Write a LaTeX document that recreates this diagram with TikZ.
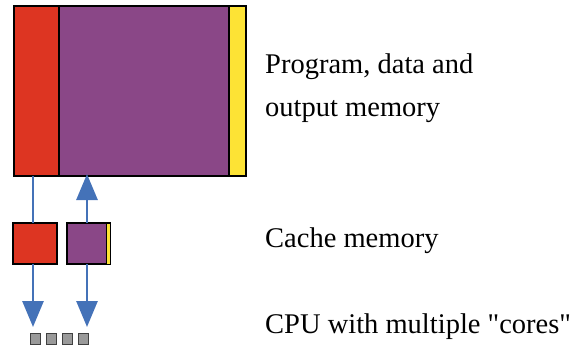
\documentclass[tikz,border=0pt]{standalone}
\usepackage{fontspec}
\newfontfamily\labelfont{Liberation Serif}
\usetikzlibrary{arrows.meta}
\definecolor{memred}{HTML}{DD3522}
\definecolor{mempurple}{HTML}{8A4787}
\definecolor{memyellow}{HTML}{FDE335}
\definecolor{busblue}{HTML}{4472B8}
\definecolor{coregray}{HTML}{9A9A9A}
\tikzset{
  block/.style={draw=black, line width=1.3pt, inner sep=0pt, outer sep=0pt, anchor=north west},
  core/.style={draw=black!75, fill=coregray, line width=1.2pt, inner sep=0pt, outer sep=0pt,
    minimum width=10pt, minimum height=11pt, anchor=north west},
  bus/.style={draw=busblue, line width=2.8pt},
  busarrow/.style={bus, -{Triangle[length=26pt,width=21pt]}},
  label/.style={anchor=base west, inner sep=0pt, font=\labelfont\fontsize{28.5}{34}\selectfont}
}
\begin{document}
\begin{tikzpicture}[x=1pt,y=-1pt]
\useasboundingbox (0,0) rectangle (577,350);
% main memory: program, data and output areas
\node[block, fill=mempurple, minimum width=170pt, minimum height=170pt] (mdata) at (59,6) {};
\node[block, fill=memred, minimum width=45pt, minimum height=170pt] (mprog) at (14,6) {};
\node[block, fill=memyellow, minimum width=17pt, minimum height=170pt] (mout) at (229,6) {};
% cache memory
\node[block, fill=memred, minimum width=44pt, minimum height=41pt] (cprog) at (13,223) {};
\node[block, fill=mempurple, minimum width=43pt, minimum height=41pt] (cdata) at (67,223) {};
\node[block, fill=memyellow, minimum width=4pt, minimum height=41pt, line width=0.8pt] (cout) at (106,223) {};
% CPU cores
\node[core] (core1) at (30.5,333.5) {};
\node[core] (core2) at (46.5,333.5) {};
\node[core] (core3) at (62.5,333.5) {};
\node[core] (core4) at (78.5,333.5) {};
% transfer paths
\coordinate (tipL) at (33,327);
\coordinate (tipR) at (87,327);
\draw[bus] (mprog.south -| tipL) -- (cprog.north -| tipL);
\draw[busarrow] (cprog.south -| tipL) -- (tipL);
\draw[busarrow] (cdata.north -| tipR) -- ([yshift=2pt]mdata.south -| tipR);
\draw[busarrow] (cdata.south -| tipR) -- (tipR);
% labels
\node[label] (lmem1) at (265,74) {Program, data and};
\node[label] (lmem2) at (265,117) {output memory};
\node[label] (lcache) at (265,247) {Cache memory};
\node[label] (lcpu) at (265,333) {CPU with multiple "cores"};
\end{tikzpicture}
\end{document}
